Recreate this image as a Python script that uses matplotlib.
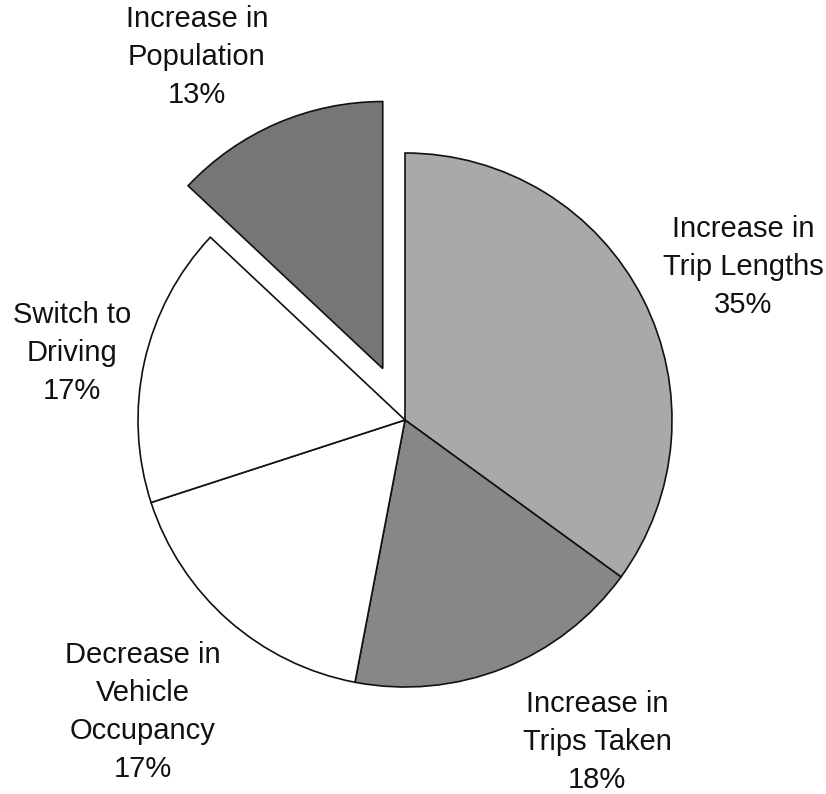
import matplotlib
matplotlib.use("Agg")
import matplotlib.pyplot as plt

categories = ["Increase in\nTrip Lengths", "Increase in\nTrips Taken",
              "Decrease in\nVehicle\nOccupancy", "Switch to\nDriving",
              "Increase in\nPopulation"]
values = [35, 18, 17, 17, 13]
colors = ["#a9a9a9", "#878787", "#ffffff", "#ffffff", "#767676"]
explode = [0, 0, 0, 0, 0.21]

# label anchor: (centre x, last-line baseline y) in pixels from top-left
label_px = [(743, 313), (597, 788), (143, 777), (72, 399), (197, 103)]

W, H = 826, 794
R = 267.0
cx, cy = 405, 420

fig = plt.figure(figsize=(W / 100, H / 100), dpi=100)
ax = fig.add_axes([0, 0, 1, 1])
ax.pie(values, colors=colors, explode=explode, startangle=90, counterclock=False,
       radius=1.0, wedgeprops=dict(edgecolor="#111111", linewidth=1.2))
ax.set_xlim(-cx / R, (W - cx) / R)
ax.set_ylim(-(H - cy) / R, cy / R)
ax.set_aspect("equal")
ax.axis("off")

for cat, v, (px, py) in zip(categories, values, label_px):
    x = (px - cx) / R
    y = (cy - py) / R
    ax.text(x, y, f"{cat}\n{v}%", ha="center", va="baseline", fontsize=21,
            family="Liberation Sans", color="#111111", linespacing=1.46,
            multialignment="center")

fig.savefig("out.png", dpi=100)
